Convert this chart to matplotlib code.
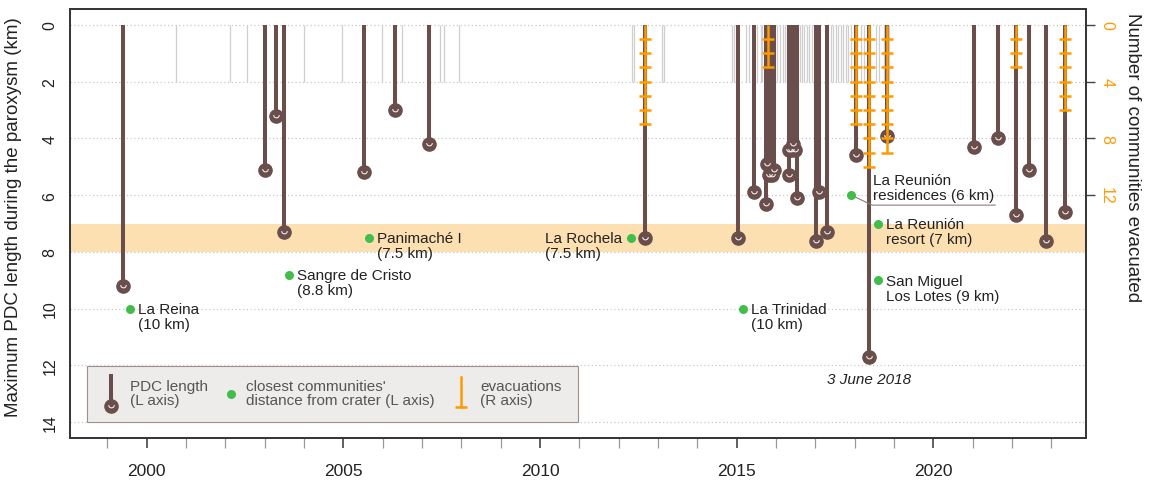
import numpy as np
import matplotlib
matplotlib.use("Agg")
import matplotlib.pyplot as plt
from matplotlib.path import Path
from matplotlib.patches import Rectangle

plt.rcParams['font.family'] = ['Liberation Sans', 'DejaVu Sans']

# ---- data -------------------------------------------------------------
# small explosive events (grey ticks, drawn 0-2 km)
minor_year = [2000.74, 2002.12, 2002.56, 2004.01, 2004.97, 2005.98, 2006.48,
              2007.46, 2007.56, 2007.94, 2012.34, 2012.40, 2013.09, 2013.16,
              2014.89, 2014.94, 2015.23, 2015.31, 2015.51, 2015.61, 2015.65,
              2016.03, 2016.10, 2016.17, 2016.23, 2016.61, 2016.67, 2016.72,
              2016.78, 2016.85, 2016.91, 2017.39, 2017.46, 2017.53, 2017.58,
              2017.65, 2017.71, 2017.77, 2017.83, 2017.90, 2018.17, 2018.24,
              2018.55, 2018.62, 2018.75, 2018.88]

# paroxysms: date and maximum PDC length (km)
pdc_year = [1999.39, 2003.00, 2003.29, 2003.48, 2005.52, 2006.32, 2007.18,
            2012.67, 2015.04, 2015.44, 2015.75, 2015.78, 2015.83, 2015.89,
            2015.95, 2016.32, 2016.33, 2016.38, 2016.42, 2016.48, 2016.54,
            2017.02, 2017.08, 2017.29, 2018.04, 2018.37, 2018.81, 2021.04,
            2021.65, 2022.09, 2022.43, 2022.87, 2023.35]
pdc_km = [9.2, 5.1, 3.2, 7.3, 5.2, 3.0, 4.2,
          7.5, 7.5, 5.9, 6.3, 4.9, 5.3, 5.3,
          5.1, 4.4, 5.3, 4.4, 4.2, 4.4, 6.1,
          7.6, 5.9, 7.3, 4.6, 11.7, 3.9, 4.3,
          4.0, 6.7, 5.1, 7.6, 6.6]

# evacuations: date and number of communities evacuated
evac_year = [2012.67, 2015.80, 2018.04, 2018.37, 2018.81, 2022.09, 2023.35]
evac_n = [7, 3, 7, 10, 9, 3, 6]

# closest communities and their distance from the crater (km)
comm_label = ["La Reina\n(10 km)", "Sangre de Cristo\n(8.8 km)",
              "Panimaché I\n(7.5 km)", "La Rochela\n(7.5 km)",
              "La Trinidad\n(10 km)", "La Reunión\nresidences (6 km)",
              "La Reunión\nresort (7 km)", "San Miguel\nLos Lotes (9 km)"]
comm_year = [1999.58, 2003.61, 2005.66, 2012.31, 2015.16, 2017.91, 2018.60, 2018.60]
comm_km = [10, 8.8, 7.5, 7.5, 10, 6, 7, 9]

year_ticks = [2000, 2005, 2010, 2015, 2020]
km_ticks = [0, 2, 4, 6, 8, 10, 12, 14]
count_ticks = [0, 4, 8, 12]

# ---- style --------------------------------------------------------------
BROWN = '#6a4e4c'
ORANGE = '#ff9a00'
GREEN = '#41bd4a'
BAND = '#fde0b2'
TXT = '#222222'

# small white arc drawn inside each PDC marker
_t = np.linspace(np.pi, 2 * np.pi, 20)
SMILE = Path(np.column_stack([np.cos(_t), np.sin(_t) + 0.5]))

fig = plt.figure(figsize=(11.51, 4.85), dpi=100)
ax = fig.add_axes([70 / 1151, 46 / 485, 1016 / 1151, 429 / 485])
ax.set_xlim(1998.05, 2023.88)
ax.set_ylim(14.56, -0.56)

ax.axhspan(7, 8, color=BAND, lw=0, zorder=0)
for y in km_ticks:
    ax.axhline(y, color='#c9c9c9', ls=(0, (1, 2)), lw=0.9, zorder=0.5)

ax.vlines(minor_year, 0, 2, color='#cfcfcf', lw=0.9, zorder=1)
ax.vlines(pdc_year, 0, pdc_km, color=BROWN, lw=2.9, zorder=3)
ax.plot(pdc_year, pdc_km, ls='none', marker='o', ms=9.5, color=BROWN, zorder=4)
ax.plot(pdc_year, pdc_km, ls='none', marker=SMILE, ms=4, mfc='none',
        mec='white', mew=0.7, zorder=5)

ax.plot(comm_year, comm_km, ls='none', marker='o', ms=6.5, color=GREEN,
        mew=0, zorder=6)

# label offsets (points) relative to each community dot
offsets = [(5.8, -5.8), (5.8, -5.8), (5.8, -5.8), (-6.5, -5.8),
           (5.8, -5.8), (16, 5.4), (5.8, -5.8), (5.8, -5.8)]
for lab, x, y, (dx, dy) in zip(comm_label, comm_year, comm_km, offsets):
    ax.annotate(lab, (x, y), xytext=(dx, dy), textcoords='offset points',
                ha='left' if dx > 0 else 'right', va='center',
                multialignment='left', fontsize=11, color=TXT,
                linespacing=1.05, zorder=7)

# leader line under the residences label
i_res = 5
p0 = ax.transData.transform((comm_year[i_res], comm_km[i_res]))
pts = p0 + np.array([[0, 0], [21, -10], [144, -10]])
lx, ly = ax.transData.inverted().transform(pts).T
ax.plot(lx, ly, color='#8c7d7b', lw=0.8, zorder=5.5)

# date of the largest paroxysm
i_max = int(np.argmax(pdc_km))
ax.annotate('3 June 2018', (pdc_year[i_max], pdc_km[i_max]), xytext=(0, -16),
            textcoords='offset points', ha='center', va='center',
            fontsize=11, style='italic', color=TXT, zorder=7)

# axes styling
ax.set_yticks(km_ticks)
ax.set_yticklabels([str(v) for v in km_ticks], rotation=90, va='center')
ax.tick_params(axis='y', length=0, pad=9, labelsize=11.5, colors=TXT)
ax.set_xticks(year_ticks)
ax.set_xticks(range(1999, 2024), minor=True)
ax.tick_params(axis='x', which='major', length=7, width=1.2, color='#444444',
               pad=11, labelsize=12.5, labelcolor=TXT)
ax.tick_params(axis='x', which='minor', length=7, width=0.9, color='#999999')
for s in ax.spines.values():
    s.set_color('#333333')
    s.set_linewidth(1.2)
ax.set_ylabel('Maximum PDC length during the paroxysm (km)', fontsize=13.5,
              color=TXT)
ax.yaxis.set_label_coords(-0.047, 0.517)

# legend box
leg = Rectangle((0.0167, 0.0373), 0.4833, 0.1312, transform=ax.transAxes,
                fc='#eeecea', ec='#a08f8d', lw=0.8, zorder=8)
ax.add_patch(leg)
LTXT = '#555555'
ax.plot([0.0404, 0.0404], [0.1445, 0.0746], transform=ax.transAxes,
        color=BROWN, lw=2.9, zorder=9)
ax.plot([0.0404], [0.0746], transform=ax.transAxes, marker='o', ms=9.5,
        color=BROWN, zorder=9)
ax.plot([0.0404], [0.0746], transform=ax.transAxes, marker=SMILE, ms=4,
        mfc='none', mec='white', mew=0.7, zorder=10)
ax.text(0.059, 0.105, 'PDC length\n(L axis)', transform=ax.transAxes,
        va='center', ha='left', fontsize=11, color=LTXT, linespacing=1.05,
        zorder=10)
ax.plot([0.1585], [0.1026], transform=ax.transAxes, marker='o', ms=6.5,
        color=GREEN, mew=0, zorder=9)
ax.text(0.1732, 0.105, "closest communities'\ndistance from crater (L axis)",
        transform=ax.transAxes, va='center', ha='left', fontsize=11,
        color=LTXT, linespacing=1.05, zorder=10)
ax.plot([0.3848, 0.3848], [0.1422, 0.0723], transform=ax.transAxes,
        color=ORANGE, lw=1.8, zorder=9)
ax.plot([0.3848], [0.0723], transform=ax.transAxes, marker='_', ms=8,
        mew=1.8, color=ORANGE, zorder=9)
ax.text(0.4035, 0.105, 'evacuations\n(R axis)', transform=ax.transAxes,
        va='center', ha='left', fontsize=11, color=LTXT, linespacing=1.05,
        zorder=10)

# right axis: evacuated communities (4 communities per 2 km)
ax2 = ax.twinx()
ax2.set_ylim(14.56 * 2, -0.56 * 2)
ax2.vlines(evac_year, 0, evac_n, color=ORANGE, lw=1.8, zorder=3)
for x, n in zip(evac_year, evac_n):
    steps = np.arange(1, n + 1)
    ax2.plot(np.full(n, x), steps, ls='none', marker='_', ms=8, mew=1.8,
             color=ORANGE, zorder=4)
ax2.set_yticks(count_ticks)
ax2.set_yticklabels([str(v) for v in count_ticks], rotation=270, va='center')
ax2.tick_params(axis='y', length=6.5, width=1.0, color='#444444', pad=3,
                labelsize=11.5, labelcolor=ORANGE)
for s in ax2.spines.values():
    s.set_color('#333333')
    s.set_linewidth(1.2)
ax2.set_ylabel('Number of communities evacuated', fontsize=13.5, color=TXT,
               rotation=270, va='center')
ax2.yaxis.set_label_coords(1.046, 0.656)

fig.savefig('out.png', dpi=100)
